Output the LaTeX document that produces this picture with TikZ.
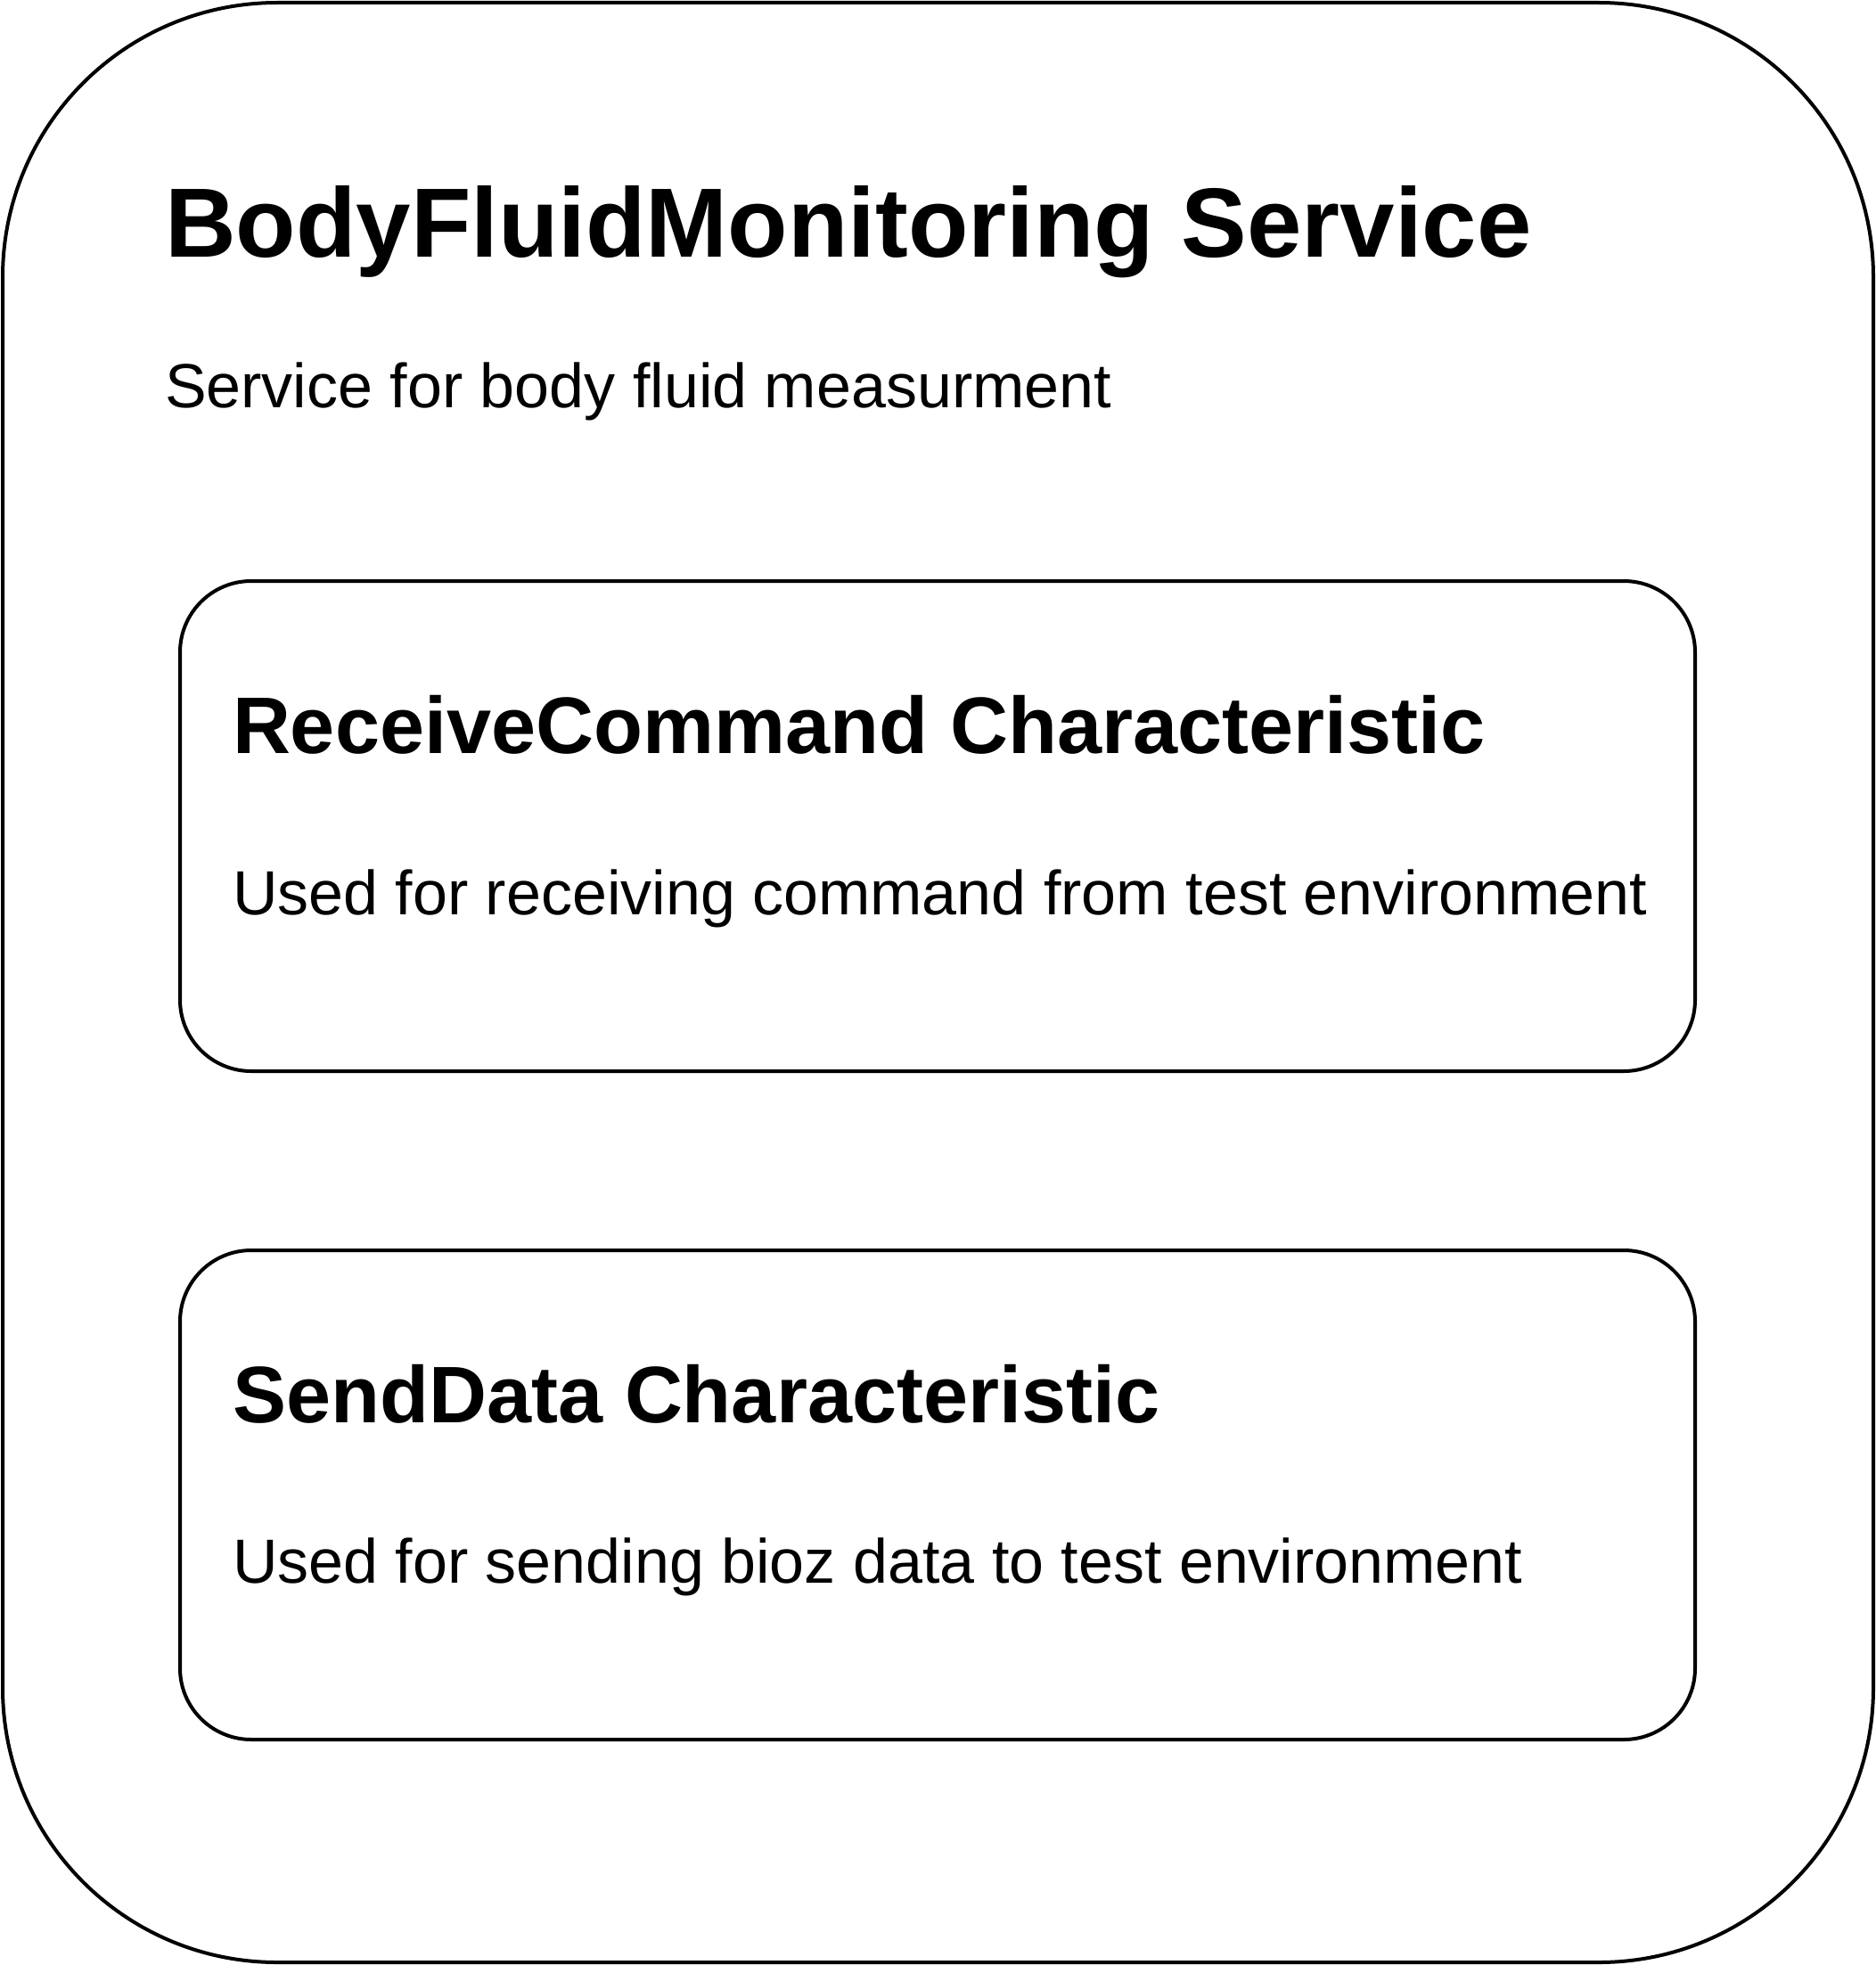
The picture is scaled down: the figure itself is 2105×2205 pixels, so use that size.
\documentclass[tikz,border=0pt]{standalone}
\usepackage{fontspec}
\setmainfont{Liberation Sans}
\begin{document}
\begin{tikzpicture}[x=0.25pt,y=-0.25pt,line width=1pt,
    svcbox/.style={draw,rounded corners=77pt},
    charbox/.style={draw,rounded corners=20pt},
    svctitle/.style={anchor=base west,inner sep=0pt,font=\bfseries\fontsize{27.6}{33}\selectfont},
    chartitle/.style={anchor=base west,inner sep=0pt,font=\bfseries\fontsize{22.5}{27}\selectfont},
    descr/.style={anchor=base west,inner sep=0pt,font=\fontsize{17.5}{21}\selectfont}]
    \useasboundingbox (0,0) rectangle (2105,2205);
    % service
    \draw[svcbox] (3,3) rectangle (2102,2202);
    \node[svctitle] (svc) at (183,288) {BodyFluidMonitoring Service};
    \node[descr] (svcdesc) at (183,457) {Service for body fluid measurment};
    % characteristics
    \draw[charbox] (202,652) rectangle (1902,1202);
    \node[chartitle] (rcv) at (259,845) {ReceiveCommand Characteristic};
    \node[descr] (rcvdesc) at (259,1026) {Used for receiving command from test environment};
    \draw[charbox] (202,1403) rectangle (1902,1952);
    \node[chartitle] (snd) at (259,1596) {SendData Characteristic};
    \node[descr] (snddesc) at (259,1776) {Used for sending bioz data to test environment};
\end{tikzpicture}
\end{document}
